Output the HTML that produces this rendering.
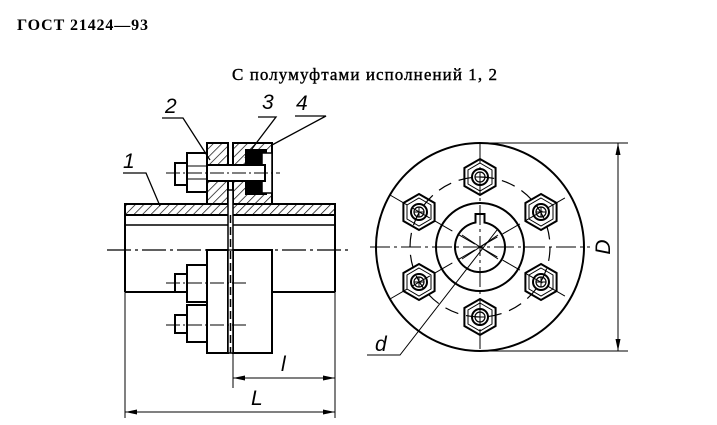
<!DOCTYPE html>
<html><head><meta charset="utf-8"><style>body{margin:0;background:#fff}svg{display:block}</style></head>
<body>
<svg width="717" height="425" viewBox="0 0 717 425" xmlns="http://www.w3.org/2000/svg" font-family="Liberation Serif, serif">
<defs>
<pattern id="h" width="6" height="6" patternUnits="userSpaceOnUse" patternTransform="rotate(45)"><line x1="0" y1="0" x2="0" y2="6" stroke="#000" stroke-width="1.4"/></pattern>
<g id="bolt" fill="none" stroke="#000">
<polygon points="0,-18 15.6,-9 15.6,9 0,18 -15.6,9 -15.6,-9" stroke-width="2"/>
<polygon points="0,-14 12,-7 12,7 0,14 -12,7 -12,-7" stroke-width="1"/>
<circle r="8" stroke-width="2"/><circle r="5" stroke-width="1.2"/>
<line x1="-5" y1="0" x2="5" y2="0" stroke-width="1"/><line x1="0" y1="-5" x2="0" y2="5" stroke-width="1"/>
</g>
</defs>
<text x="17" y="30" font-weight="bold" font-size="16" textLength="131">ГОСТ 21424—93</text>
<text x="232" y="80" font-size="17" textLength="265" stroke="#000" stroke-width="0.4">С полумуфтами исполнений 1, 2</text>

<g stroke="#000" fill="none" stroke-width="2">
<rect x="125" y="204" width="210" height="11" fill="url(#h)"/>
<rect x="207" y="143" width="21" height="61" fill="url(#h)"/>
<rect x="233" y="143" width="39" height="61" fill="url(#h)"/>
<rect x="246" y="150" width="20" height="44" fill="#000"/>
<rect x="262" y="153" width="10" height="40" fill="#fff" stroke-width="1.5"/>
<line x1="125" y1="215" x2="125" y2="292"/><line x1="335" y1="215" x2="335" y2="292"/>
<line x1="125" y1="225" x2="335" y2="225" stroke-width="1.5"/>
<line x1="125" y1="292" x2="207" y2="292"/><line x1="272" y1="292" x2="335" y2="292"/>
<rect x="207" y="250" width="21" height="103" fill="#fff"/>
<rect x="233" y="250" width="39" height="103" fill="#fff"/>
<rect x="228" y="190" width="5" height="163" fill="#fff" stroke-width="1.5"/>
<line x1="230.5" y1="215" x2="230.5" y2="353" stroke-width="1.5" stroke-dasharray="8 4"/>
<rect x="207" y="165" width="58" height="16" fill="#fff"/>
<rect x="187" y="153" width="20" height="39" fill="#fff"/>
<line x1="187" y1="166" x2="207" y2="166" stroke-width="1"/><line x1="187" y1="179" x2="207" y2="179" stroke-width="1"/>
<rect x="175" y="163" width="12" height="22" fill="#fff"/>
<line x1="166" y1="173" x2="280" y2="173" stroke-width="1" stroke-dasharray="14 3 2 3"/>
<rect x="187" y="265" width="20" height="37" fill="#fff"/>
<rect x="175" y="274" width="12" height="18" fill="#fff"/>
<rect x="187" y="305" width="20" height="37" fill="#fff"/>
<rect x="175" y="315" width="12" height="18" fill="#fff"/>
<line x1="166" y1="283" x2="248" y2="283" stroke-width="1" stroke-dasharray="14 3 2 3"/>
<line x1="166" y1="325" x2="248" y2="325" stroke-width="1" stroke-dasharray="14 3 2 3"/>
<line x1="107" y1="250" x2="350" y2="250" stroke-width="1.2" stroke-dasharray="24 4 3 4"/>
<g stroke-width="1">
<line x1="125" y1="292" x2="125" y2="418"/><line x1="335" y1="292" x2="335" y2="418"/>
<line x1="233" y1="353" x2="233" y2="388"/>
<line x1="233" y1="378" x2="335" y2="378"/><line x1="125" y1="412" x2="335" y2="412"/>
</g>
<g fill="#000" stroke="none">
<polygon points="233,378 245,375.5 245,380.5"/><polygon points="335,378 323,375.5 323,380.5"/>
<polygon points="125,412 137,409.5 137,414.5"/><polygon points="335,412 323,409.5 323,414.5"/>
</g>
<g stroke-width="1.3">
<polyline points="123,173 146,173 160,206"/>
<polyline points="162,118 183,118 210,160"/>
<polyline points="258,117 276,117 245,158"/>
<polyline points="295,116 326,116 272,145"/>
</g>

<circle cx="480" cy="247" r="104"/>
<circle cx="480" cy="247" r="44"/>
<path d="M475.5,222.5 L475.5,214 L484.5,214 L484.5,222.5 A25,25 0 1 1 475.5,222.5 Z"/>
<circle cx="480" cy="247" r="70" stroke-width="1.2" stroke-dasharray="14 8"/>
<g stroke-width="1">
<line x1="370" y1="247" x2="590" y2="247" stroke-dasharray="20 4 3 4"/>
<line x1="480" y1="143" x2="480" y2="351" stroke-dasharray="20 4 3 4"/>
<line x1="390" y1="195" x2="570" y2="299" stroke-dasharray="20 6"/>
<line x1="390" y1="299" x2="570" y2="195" stroke-dasharray="20 6"/>
<line x1="462" y1="235" x2="498" y2="259"/><line x1="462" y1="259" x2="498" y2="235"/>
<polyline points="497,230 400,355 367,355"/>
<line x1="480" y1="143" x2="628" y2="143"/><line x1="480" y1="351" x2="628" y2="351"/>
<line x1="618" y1="143" x2="618" y2="351"/>
</g>
<g fill="#000" stroke="none">
<polygon points="618,143 615.5,155 620.5,155"/><polygon points="618,351 615.5,339 620.5,339"/>
</g>
<use href="#bolt" x="480" y="177"/><use href="#bolt" x="480" y="317"/>
<use href="#bolt" x="419" y="212"/><use href="#bolt" x="541" y="212"/>
<use href="#bolt" x="419" y="282"/><use href="#bolt" x="541" y="282"/>
</g>
<g font-family="Liberation Sans, sans-serif" font-style="italic" font-size="21" fill="#000">
<text x="123" y="168">1</text><text x="165" y="113">2</text><text x="262" y="109">3</text><text x="296" y="110">4</text>
<text x="281" y="371">l</text><text x="251" y="405">L</text>
<text x="375" y="351">d</text>
<text transform="translate(610,247) rotate(-90)" text-anchor="middle">D</text>
</g>
</svg>
</body></html>
